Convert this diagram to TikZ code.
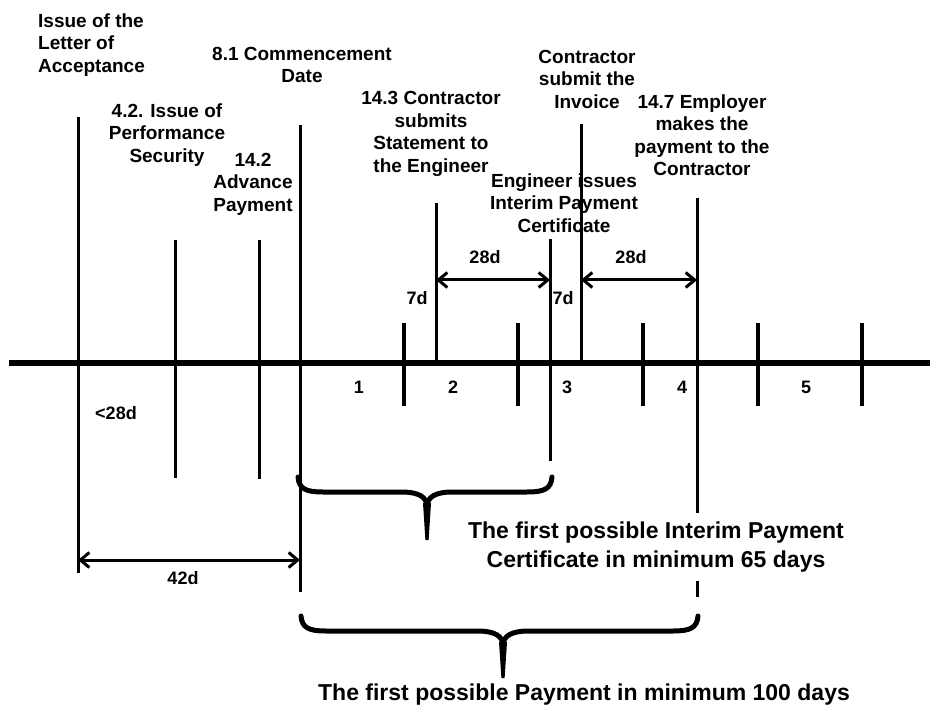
\documentclass[tikz,border=0pt]{standalone}
\usepackage{fontspec}
\setmainfont{Liberation Sans}
\usetikzlibrary{arrows.meta}

\begin{document}
\begin{tikzpicture}[
    x=1pt, y=-1pt,
    evtext/.style={font=\fontsize{19}{22.5}\selectfont\bfseries, align=center, inner sep=0pt},
    daytext/.style={font=\fontsize{18}{21}\selectfont\bfseries, inner sep=0pt},
    note/.style={font=\fontsize{23}{29}\selectfont\bfseries, align=center, inner xsep=2pt, inner ysep=9pt},
    event/.style={line width=3pt},
    tickmark/.style={line width=3.5pt},
    span/.style={{Straight Barb[length=9pt,width=15pt]}-{Straight Barb[length=9pt,width=15pt]}, line width=3pt},
    brace/.style={line width=5pt, line cap=round}
]
    \useasboundingbox (0,0) rectangle (934,708);

    \node[evtext, align=left, anchor=west] (loa) at (38,45) {Issue of the\\Letter of\\Acceptance};
    \node[evtext] (perf) at (167,135) {4.2. Issue of\\Performance\\Security};
    \node[evtext] (adv) at (253,184) {14.2\\Advance\\Payment};
    \node[evtext] (comm) at (302,65) {8.1 Commencement\\Date};
    \node[evtext] (stmt) at (431,134) {14.3 Contractor\\submits\\Statement to\\the Engineer};
    \node[evtext] (inv) at (587,79) {Contractor\\submit the\\Invoice};
    \node[evtext] (ipc) at (564,203) {Engineer issues\\Interim Payment\\Certificate};
    \node[evtext] (pay) at (702,135) {14.7 Employer\\makes the\\payment to the\\Contractor};

    \draw[line width=6.5pt] (9,363) coordinate (axL) -- (930,363) coordinate (axR);
    \foreach \x in {404,518,643,758,862}
        \draw[tickmark] (\x,323) -- (\x,406);

    \foreach \n/\x/\t/\b in {loa/78/117/573, perf/175/240/478, adv/259/240/479,
        comm/300/125/592, stmt/436/203/363, ipc/550/239/461, inv/581/124/363, pay/697/198/597} {
        \coordinate (\n T) at (\x,\t);
        \coordinate (\n B) at (\x,\b);
        \draw[event] (\n T) -- (\n B);
    }

    \foreach \t/\x in {1/359, 2/453, 3/567, 4/682, 5/806}
        \node[daytext] (seg\t) at (\x,387) {\t};

    \coordinate (d28) at (0,280);
    \coordinate (d42) at (0,560);
    \draw[span] (stmtT |- d28) -- (ipcT |- d28);
    \draw[span] (invT |- d28) -- (payT |- d28);
    \draw[span] (loaT |- d42) -- (commT |- d42);

    \node[daytext] (w1) at (485,257) {28d};
    \node[daytext] (w2) at (631,257) {28d};
    \node[daytext] (s1) at (417,298) {7d};
    \node[daytext] (s2) at (563,298) {7d};
    \node[daytext] (lt28) at (116,413) {<28d};
    \node[daytext] (d42l) at (183,578) {42d};

    \foreach \l/\r/\m/\t/\b in {298/552/427/477/540, 301/698/503/616/678} {
        \draw[brace] (\l,\t) .. controls (\l+1,\t+12) and (\l+8,\t+15) .. (\l+25,\t+15)
            -- (\m-26,\t+15) .. controls (\m-8,\t+15) and (\m,\t+20) .. (\m,\t+30);
        \draw[brace] (\r,\t) .. controls (\r-1,\t+12) and (\r-8,\t+15) .. (\r-25,\t+15)
            -- (\m+26,\t+15) .. controls (\m+8,\t+15) and (\m,\t+20) .. (\m,\t+30);
        \fill (\m-4,\t+26) -- (\m+4,\t+26) -- (\m+1.6,\b) -- (\m-1.6,\b) -- cycle;
    }

    \node[note, fill=white] (first65) at (656,547) {The first possible Interim Payment\\Certificate in minimum 65 days};
    \node[note] (first100) at (584,695) {The first possible Payment in minimum 100 days};
\end{tikzpicture}
\end{document}
